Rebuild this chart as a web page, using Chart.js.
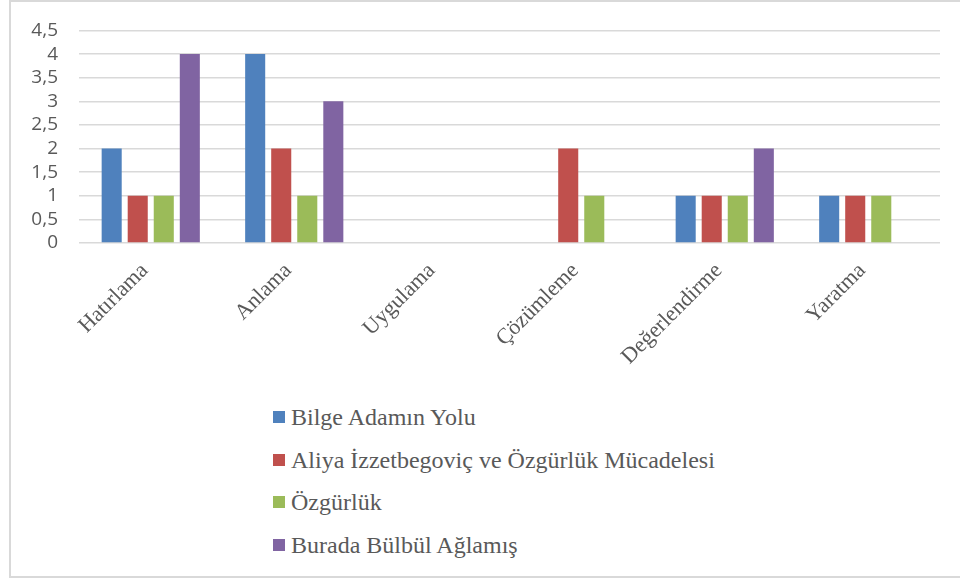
<!DOCTYPE html>
<html lang="tr">
<head>
<meta charset="utf-8">
<script src="https://cdn.jsdelivr.net/npm/chart.js@4/dist/chart.umd.min.js"></script>
<style>
  html,body{margin:0;padding:0;background:#fff;}
  body{width:960px;height:578px;position:relative;overflow:hidden;}
  .frame{position:absolute;left:9px;top:0;width:960px;height:578px;border:2px solid #d9d9d9;box-sizing:border-box;}
  .plot{position:absolute;left:0;top:0;width:960px;height:390px;}
  .legend{position:absolute;left:273px;top:396px;margin:0;padding:0;list-style:none;
    font-family:"Liberation Serif","DejaVu Serif",serif;font-size:24px;color:#595959;}
  .legend li{height:42.5px;line-height:42.5px;white-space:nowrap;display:flex;align-items:center;}
  .legend .box{display:inline-block;width:12px;height:12px;margin-right:6px;}
</style>
</head>
<body>
<div class="frame"></div>
<div class="plot"><canvas id="chart"></canvas></div>
<ul class="legend" id="legend"></ul>
<script>
'use strict';

// Bloom düzeyleri ve eserlere göre soru sayıları
const categories=['Hatırlama','Anlama','Uygulama','Çözümleme','Değerlendirme','Yaratma'];
const seriesNames=['Bilge Adamın Yolu','Aliya İzzetbegoviç ve Özgürlük Mücadelesi','Özgürlük','Burada Bülbül Ağlamış'];
const bilgeAdam=[2,4,0,0,1,1];
const aliya=[1,2,0,2,1,1];
const ozgurluk=[1,1,0,1,1,1];
const buradaBulbul=[4,3,0,0,2,0];
const yTickLabels=['0','0,5','1','1,5','2','2,5','3','3,5','4','4,5'];

const colors=['#4f81bd','#c0504d','#9bbb59','#8064a2'];
const values=[bilgeAdam,aliya,ozgurluk,buradaBulbul];

const datasets=seriesNames.map((name,i)=>({
  label:name,
  data:values[i],
  backgroundColor:colors[i],
  borderWidth:0,
  categoryPercentage:0.726,
  barPercentage:0.77,
}));

new Chart(document.getElementById('chart'),{
  type:'bar',
  data:{labels:categories,datasets},
  options:{
    responsive:true,
    maintainAspectRatio:false,
    animation:false,
    layout:{padding:{top:20,right:20,left:0,bottom:0}},
    plugins:{legend:{display:false},tooltip:{enabled:false}},
    scales:{
      x:{
        grid:{display:false,drawTicks:false},
        border:{display:false},
        ticks:{
          minRotation:45,maxRotation:45,autoSkip:false,padding:15,labelOffset:-6,
          color:'#595959',
          font:{family:'"Liberation Serif","DejaVu Serif",serif',size:22},
        },
        afterFit:(s)=>{s.height=147;},
      },
      y:{
        min:0,max:4.5,
        grid:{color:'#d9d9d9',lineWidth:1.5,drawTicks:false},
        border:{display:false},
        // ticks.padding also sets the space above the top tick (half label + padding)
        ticks:{
          stepSize:0.5,autoSkip:false,padding:21,color:'#595959',
          font:{family:'"Open Sans","Liberation Sans",sans-serif',size:19,lineHeight:1},
          callback:(v,i)=>yTickLabels[i],
        },
        afterFit:(s)=>{s.width=79;},
      },
    },
  },
});

// Lejant: her seri ayrı satırda
document.getElementById('legend').innerHTML=seriesNames.map((n,i)=>
  '<li><span class="box" style="background:'+colors[i]+'"></span>'+n+'</li>'
).join('');
</script>
</body>
</html>
